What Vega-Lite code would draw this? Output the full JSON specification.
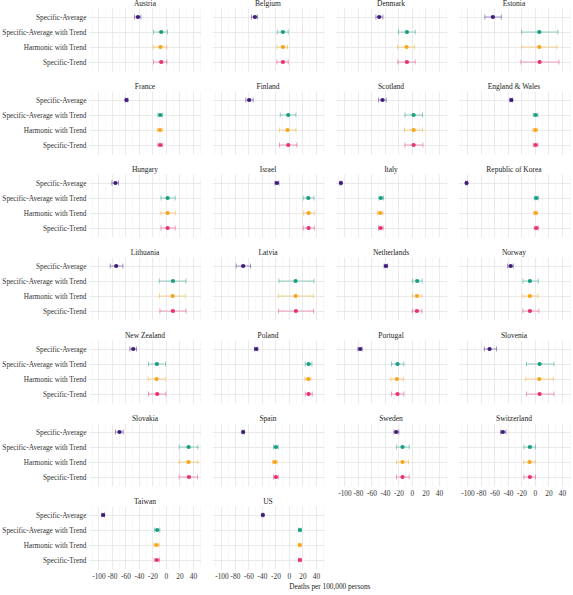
{
  "$schema": "https://vega.github.io/schema/vega-lite/v6.json",
  "padding": {"left": 1, "top": 0, "right": 3, "bottom": 2},
  "background": "white",
  "title": {"text": "Deaths per 100,000 persons", "orient": "bottom", "anchor": "middle", "frame": "bounds", "dx": 44, "font": "Liberation Serif", "fontSize": 7.3, "fontWeight": "normal", "color": "#222222", "offset": 4},
  "data": {"values": [
    {"country": "Austria", "method": "Specific-Average", "est": -41.5, "lo": -46.6, "hi": -37.1},
    {"country": "Austria", "method": "Specific-Average with Trend", "est": -7, "lo": -18.4, "hi": 2.4},
    {"country": "Austria", "method": "Harmonic with Trend", "est": -8, "lo": -18.8, "hi": 1.5},
    {"country": "Austria", "method": "Specific-Trend", "est": -7, "lo": -18.4, "hi": 1.5},
    {"country": "Belgium", "method": "Specific-Average", "est": -50.4, "lo": -55.4, "hi": -46.4},
    {"country": "Belgium", "method": "Specific-Average with Trend", "est": -8.9, "lo": -17.4, "hi": -1},
    {"country": "Belgium", "method": "Harmonic with Trend", "est": -8.9, "lo": -17.8, "hi": -2},
    {"country": "Belgium", "method": "Specific-Trend", "est": -8.9, "lo": -17.8, "hi": -1},
    {"country": "Denmark", "method": "Specific-Average", "est": -48.5, "lo": -53.4, "hi": -43},
    {"country": "Denmark", "method": "Specific-Average with Trend", "est": -7.4, "lo": -19.9, "hi": 4.9},
    {"country": "Denmark", "method": "Harmonic with Trend", "est": -8, "lo": -21.4, "hi": 3.9},
    {"country": "Denmark", "method": "Specific-Trend", "est": -7.4, "lo": -20.8, "hi": 4.9},
    {"country": "Estonia", "method": "Specific-Average", "est": -62.3, "lo": -74.2, "hi": -49.9},
    {"country": "Estonia", "method": "Specific-Average with Trend", "est": 6.5, "lo": -19.7, "hi": 34.1},
    {"country": "Estonia", "method": "Harmonic with Trend", "est": 6.5, "lo": -19.7, "hi": 32.6},
    {"country": "Estonia", "method": "Specific-Trend", "est": 7, "lo": -20.8, "hi": 35.6},
    {"country": "France", "method": "Specific-Average", "est": -58.4, "lo": -60.4, "hi": -56.4},
    {"country": "France", "method": "Specific-Average with Trend", "est": -8.5, "lo": -11.9, "hi": -5},
    {"country": "France", "method": "Harmonic with Trend", "est": -8.9, "lo": -12.9, "hi": -5.5},
    {"country": "France", "method": "Specific-Trend", "est": -8.5, "lo": -11.9, "hi": -5},
    {"country": "Finland", "method": "Specific-Average", "est": -58.9, "lo": -63.8, "hi": -53},
    {"country": "Finland", "method": "Specific-Average with Trend", "est": -1, "lo": -12.9, "hi": 10.4},
    {"country": "Finland", "method": "Harmonic with Trend", "est": -2, "lo": -13.9, "hi": 10.4},
    {"country": "Finland", "method": "Specific-Trend", "est": -1, "lo": -13.9, "hi": 11.9},
    {"country": "Scotland", "method": "Specific-Average", "est": -43.6, "lo": -49.5, "hi": -38.1},
    {"country": "Scotland", "method": "Specific-Average with Trend", "est": 2.5, "lo": -10.4, "hi": 15.8},
    {"country": "Scotland", "method": "Harmonic with Trend", "est": 2.5, "lo": -10.9, "hi": 15.8},
    {"country": "Scotland", "method": "Specific-Trend", "est": 2.5, "lo": -10.4, "hi": 16.3},
    {"country": "England & Wales", "method": "Specific-Average", "est": -35, "lo": -37, "hi": -33},
    {"country": "England & Wales", "method": "Specific-Average with Trend", "est": 1, "lo": -2.4, "hi": 4.5},
    {"country": "England & Wales", "method": "Harmonic with Trend", "est": 0.5, "lo": -2.9, "hi": 4},
    {"country": "England & Wales", "method": "Specific-Trend", "est": 1, "lo": -2.4, "hi": 4.5},
    {"country": "Hungary", "method": "Specific-Average", "est": -74.8, "lo": -80.1, "hi": -70.3},
    {"country": "Hungary", "method": "Specific-Average with Trend", "est": 2.5, "lo": -7.4, "hi": 13.8},
    {"country": "Hungary", "method": "Harmonic with Trend", "est": 2.5, "lo": -7.4, "hi": 13.8},
    {"country": "Hungary", "method": "Specific-Trend", "est": 2.5, "lo": -7.4, "hi": 13.8},
    {"country": "Israel", "method": "Specific-Average", "est": -17.8, "lo": -20.8, "hi": -14.8},
    {"country": "Israel", "method": "Specific-Average with Trend", "est": 28.7, "lo": 21.2, "hi": 37.1},
    {"country": "Israel", "method": "Harmonic with Trend", "est": 29.2, "lo": 21.8, "hi": 38.1},
    {"country": "Israel", "method": "Specific-Trend", "est": 29.2, "lo": 21.2, "hi": 37.6},
    {"country": "Italy", "method": "Specific-Average", "est": -105.3, "lo": -106.8, "hi": -103.8},
    {"country": "Italy", "method": "Specific-Average with Trend", "est": -46, "lo": -49, "hi": -42.1},
    {"country": "Italy", "method": "Harmonic with Trend", "est": -47, "lo": -51, "hi": -43},
    {"country": "Italy", "method": "Specific-Trend", "est": -46.5, "lo": -49.5, "hi": -42.6},
    {"country": "Republic of Korea", "method": "Specific-Average", "est": -101.3, "lo": -102.8, "hi": -99.8},
    {"country": "Republic of Korea", "method": "Specific-Average with Trend", "est": 2, "lo": -1, "hi": 5.5},
    {"country": "Republic of Korea", "method": "Harmonic with Trend", "est": 1, "lo": -1.5, "hi": 3.5},
    {"country": "Republic of Korea", "method": "Specific-Trend", "est": 2, "lo": -1, "hi": 5.5},
    {"country": "Lithuania", "method": "Specific-Average", "est": -73.7, "lo": -82.6, "hi": -63.8},
    {"country": "Lithuania", "method": "Specific-Average with Trend", "est": 10.4, "lo": -9.9, "hi": 29.7},
    {"country": "Lithuania", "method": "Harmonic with Trend", "est": 9.9, "lo": -9.9, "hi": 28.7},
    {"country": "Lithuania", "method": "Specific-Trend", "est": 10.4, "lo": -8.9, "hi": 29.7},
    {"country": "Latvia", "method": "Specific-Average", "est": -67.8, "lo": -78.2, "hi": -56.9},
    {"country": "Latvia", "method": "Specific-Average with Trend", "est": 9.9, "lo": -14.8, "hi": 37.1},
    {"country": "Latvia", "method": "Harmonic with Trend", "est": 9.9, "lo": -15.8, "hi": 36.1},
    {"country": "Latvia", "method": "Specific-Trend", "est": 10.4, "lo": -15.3, "hi": 36.6},
    {"country": "Netherlands", "method": "Specific-Average", "est": -38.6, "lo": -41.2, "hi": -36},
    {"country": "Netherlands", "method": "Specific-Average with Trend", "est": 7.9, "lo": 1, "hi": 15.3},
    {"country": "Netherlands", "method": "Harmonic with Trend", "est": 7.4, "lo": 0.5, "hi": 14.8},
    {"country": "Netherlands", "method": "Specific-Trend", "est": 7.4, "lo": 0.5, "hi": 14.8},
    {"country": "Norway", "method": "Specific-Average", "est": -36, "lo": -40.5, "hi": -32.1},
    {"country": "Norway", "method": "Specific-Average with Trend", "est": -7.4, "lo": -17.8, "hi": 5},
    {"country": "Norway", "method": "Harmonic with Trend", "est": -7.4, "lo": -17.8, "hi": 4.5},
    {"country": "Norway", "method": "Specific-Trend", "est": -7.4, "lo": -17.8, "hi": 6},
    {"country": "New Zealand", "method": "Specific-Average", "est": -48.5, "lo": -53.4, "hi": -43.6},
    {"country": "New Zealand", "method": "Specific-Average with Trend", "est": -13.4, "lo": -25.8, "hi": -0.5},
    {"country": "New Zealand", "method": "Harmonic with Trend", "est": -13.9, "lo": -26.3, "hi": -1},
    {"country": "New Zealand", "method": "Specific-Trend", "est": -12.9, "lo": -25.8, "hi": 0},
    {"country": "Poland", "method": "Specific-Average", "est": -48.5, "lo": -51, "hi": -46},
    {"country": "Poland", "method": "Specific-Average with Trend", "est": 29.2, "lo": 24.2, "hi": 34.1},
    {"country": "Poland", "method": "Harmonic with Trend", "est": 28.7, "lo": 23.7, "hi": 32.6},
    {"country": "Poland", "method": "Specific-Trend", "est": 29.2, "lo": 24.2, "hi": 34.6},
    {"country": "Portugal", "method": "Specific-Average", "est": -76.7, "lo": -80.1, "hi": -73.7},
    {"country": "Portugal", "method": "Specific-Average with Trend", "est": -21.3, "lo": -30.3, "hi": -11.9},
    {"country": "Portugal", "method": "Harmonic with Trend", "est": -22.3, "lo": -31.3, "hi": -12.4},
    {"country": "Portugal", "method": "Specific-Trend", "est": -21.3, "lo": -30.3, "hi": -11.9},
    {"country": "Slovenia", "method": "Specific-Average", "est": -67.2, "lo": -75.1, "hi": -56.9},
    {"country": "Slovenia", "method": "Specific-Average with Trend", "est": 7, "lo": -12.4, "hi": 28.2},
    {"country": "Slovenia", "method": "Harmonic with Trend", "est": 6.5, "lo": -13.4, "hi": 27.2},
    {"country": "Slovenia", "method": "Specific-Trend", "est": 7, "lo": -12.4, "hi": 28.2},
    {"country": "Slovakia", "method": "Specific-Average", "est": -68.8, "lo": -74.8, "hi": -63.4},
    {"country": "Slovakia", "method": "Specific-Average with Trend", "est": 33.6, "lo": 19.7, "hi": 47.5},
    {"country": "Slovakia", "method": "Harmonic with Trend", "est": 33.6, "lo": 19.7, "hi": 47.5},
    {"country": "Slovakia", "method": "Specific-Trend", "est": 34.1, "lo": 19.7, "hi": 47},
    {"country": "Spain", "method": "Specific-Average", "est": -67.8, "lo": -69.3, "hi": -66.3},
    {"country": "Spain", "method": "Specific-Average with Trend", "est": -19.3, "lo": -22.7, "hi": -15.8},
    {"country": "Spain", "method": "Harmonic with Trend", "est": -20.8, "lo": -24.2, "hi": -17.3},
    {"country": "Spain", "method": "Specific-Trend", "est": -19.3, "lo": -22.7, "hi": -15.8},
    {"country": "Sweden", "method": "Specific-Average", "est": -23.3, "lo": -26.7, "hi": -19.3},
    {"country": "Sweden", "method": "Specific-Average with Trend", "est": -13.9, "lo": -22.8, "hi": -4},
    {"country": "Sweden", "method": "Harmonic with Trend", "est": -13.9, "lo": -22.8, "hi": -5},
    {"country": "Sweden", "method": "Specific-Trend", "est": -13.9, "lo": -22.8, "hi": -4},
    {"country": "Switzerland", "method": "Specific-Average", "est": -47.5, "lo": -50.9, "hi": -43},
    {"country": "Switzerland", "method": "Specific-Average with Trend", "est": -7.4, "lo": -16.3, "hi": 1},
    {"country": "Switzerland", "method": "Harmonic with Trend", "est": -7.9, "lo": -16.8, "hi": 0.5},
    {"country": "Switzerland", "method": "Specific-Trend", "est": -7.4, "lo": -16.3, "hi": 1},
    {"country": "Taiwan", "method": "Specific-Average", "est": -93, "lo": -95, "hi": -91},
    {"country": "Taiwan", "method": "Specific-Average with Trend", "est": -13, "lo": -17, "hi": -9},
    {"country": "Taiwan", "method": "Harmonic with Trend", "est": -14, "lo": -18, "hi": -10},
    {"country": "Taiwan", "method": "Specific-Trend", "est": -13.5, "lo": -17.5, "hi": -9.5},
    {"country": "US", "method": "Specific-Average", "est": -38.6, "lo": -40, "hi": -37.2},
    {"country": "US", "method": "Specific-Average with Trend", "est": 16.3, "lo": 14.3, "hi": 18.3},
    {"country": "US", "method": "Harmonic with Trend", "est": 16, "lo": 14, "hi": 18},
    {"country": "US", "method": "Specific-Trend", "est": 16.3, "lo": 14.3, "hi": 18.3}
  ]},
  "spacing": 12,
  "vconcat": [
    {
      "transform": [{"filter": {"field": "country", "oneOf": ["Austria", "Belgium", "Denmark", "Estonia", "France", "Finland", "Scotland", "England & Wales", "Hungary", "Israel", "Italy", "Republic of Korea", "Lithuania", "Latvia", "Netherlands", "Norway", "New Zealand", "Poland", "Portugal", "Slovenia"]}}],
      "columns": 4,
      "spacing": {"row": 12, "column": 11},
      "facet": {
        "field": "country", "type": "nominal", "title": null,
        "sort": ["Austria", "Belgium", "Denmark", "Estonia", "France", "Finland", "Scotland", "England & Wales", "Hungary", "Israel", "Italy", "Republic of Korea", "Lithuania", "Latvia", "Netherlands", "Norway", "New Zealand", "Poland", "Portugal", "Slovenia"],
        "header": {"labelFont": "Liberation Serif", "labelFontSize": 7.5, "labelColor": "#222222", "labelPadding": 0.5}
      },
      "spec": {
        "width": 112, "height": 63,
        "encoding": {
          "y": {"field": "method", "type": "nominal", "title": null,
            "scale": {"type": "point", "padding": 0.6, "domain": ["Specific-Average", "Specific-Average with Trend", "Harmonic with Trend", "Specific-Trend"]},
            "axis": {"ticks": false, "domain": false, "labelPadding": 3, "gridColor": "#e8e8e8", "gridWidth": 0.9}},
          "color": {"field": "method", "type": "nominal", "legend": null,
            "scale": {"domain": ["Specific-Average", "Specific-Average with Trend", "Harmonic with Trend", "Specific-Trend"], "range": ["#3E1C7C", "#1A9E80", "#F9A51B", "#E8336E"]}}
        },
        "layer": [
          {"mark": {"type": "rule", "strokeWidth": 0.9, "opacity": 0.5},
           "encoding": {"x": {"field": "lo", "type": "quantitative", "title": null, "scale": {"domain": [-114, 52], "nice": false, "zero": false},
              "axis": {"orient": "bottom", "values": [-100, -80, -60, -40, -20, 0, 20, 40], "labels": false, "ticks": false, "domain": false, "grid": true, "gridColor": "#e4e4e4", "gridWidth": 0.8}},
             "x2": {"field": "hi"}}},
          {"mark": {"type": "tick", "thickness": 0.9, "size": 5, "opacity": 0.5},
           "encoding": {"x": {"field": "lo", "type": "quantitative", "title": null,
              "axis": {"orient": "bottom", "values": [-110, -90, -70, -50, -30, -10, 10, 30, 50], "labels": false, "ticks": false, "domain": false, "grid": true, "gridColor": "#f0f0f0", "gridWidth": 0.5}}}},
          {"mark": {"type": "tick", "thickness": 0.9, "size": 5, "opacity": 0.5}, "encoding": {"x": {"field": "hi", "type": "quantitative", "axis": null}}},
          {"mark": {"type": "point", "filled": true, "size": 18, "opacity": 1}, "encoding": {"x": {"field": "est", "type": "quantitative", "axis": null}}},
          {"mark": {"type": "rule", "color": "#9a9a9a", "strokeDash": [4, 3], "strokeWidth": 0.8}, "encoding": {"x": {"datum": 0, "type": "quantitative", "axis": null}}}
        ],
        "resolve": {"axis": {"x": "independent"}}
      }
    },
    {
      "spacing": 11,
      "hconcat": [
        {
          "transform": [{"filter": {"field": "country", "oneOf": ["Slovakia", "Spain", "Taiwan", "US"]}}],
          "columns": 2,
          "spacing": {"row": 12, "column": 11},
          "facet": {
            "field": "country", "type": "nominal", "title": null,
            "sort": ["Slovakia", "Spain", "Taiwan", "US"],
            "header": {"labelFont": "Liberation Serif", "labelFontSize": 7.5, "labelColor": "#222222", "labelPadding": 0.5}
          },
          "spec": {
            "width": 112, "height": 63,
            "encoding": {
              "y": {"field": "method", "type": "nominal", "title": null,
                "scale": {"type": "point", "padding": 0.6, "domain": ["Specific-Average", "Specific-Average with Trend", "Harmonic with Trend", "Specific-Trend"]},
                "axis": {"ticks": false, "domain": false, "labelPadding": 3, "gridColor": "#e8e8e8", "gridWidth": 0.9}},
              "color": {"field": "method", "type": "nominal", "legend": null,
                "scale": {"domain": ["Specific-Average", "Specific-Average with Trend", "Harmonic with Trend", "Specific-Trend"], "range": ["#3E1C7C", "#1A9E80", "#F9A51B", "#E8336E"]}}
            },
            "layer": [
              {"mark": {"type": "rule", "strokeWidth": 0.9, "opacity": 0.5},
               "encoding": {"x": {"field": "lo", "type": "quantitative", "title": null, "scale": {"domain": [-114, 52], "nice": false, "zero": false},
                  "axis": {"orient": "bottom", "values": [-100, -80, -60, -40, -20, 0, 20, 40],
                    "labelExpr": "datum.value < 0 ? '-' + abs(datum.value) : '' + datum.value",
                    "ticks": false, "domain": false, "labelPadding": 3, "labelFlush": false, "labelOverlap": false, "labelSeparation": 0, "labelColor": "#333333",
                    "grid": true, "gridColor": "#e4e4e4", "gridWidth": 0.8}},
                 "x2": {"field": "hi"}}},
              {"mark": {"type": "tick", "thickness": 0.9, "size": 5, "opacity": 0.5},
               "encoding": {"x": {"field": "lo", "type": "quantitative", "title": null,
                  "axis": {"orient": "bottom", "values": [-110, -90, -70, -50, -30, -10, 10, 30, 50], "labels": false, "ticks": false, "domain": false, "grid": true, "gridColor": "#f0f0f0", "gridWidth": 0.5}}}},
              {"mark": {"type": "tick", "thickness": 0.9, "size": 5, "opacity": 0.5}, "encoding": {"x": {"field": "hi", "type": "quantitative", "axis": null}}},
              {"mark": {"type": "point", "filled": true, "size": 18, "opacity": 1}, "encoding": {"x": {"field": "est", "type": "quantitative", "axis": null}}},
              {"mark": {"type": "rule", "color": "#9a9a9a", "strokeDash": [4, 3], "strokeWidth": 0.8}, "encoding": {"x": {"datum": 0, "type": "quantitative", "axis": null}}}
            ],
            "resolve": {"axis": {"x": "independent"}}
          }
        },
        {
          "transform": [{"filter": {"field": "country", "oneOf": ["Sweden", "Switzerland"]}}],
          "columns": 2,
          "spacing": {"row": 12, "column": 11},
          "facet": {
            "field": "country", "type": "nominal", "title": null,
            "sort": ["Sweden", "Switzerland"],
            "header": {"labelFont": "Liberation Serif", "labelFontSize": 7.5, "labelColor": "#222222", "labelPadding": 0.5}
          },
          "spec": {
            "width": 112, "height": 63,
            "encoding": {
              "y": {"field": "method", "type": "nominal", "title": null,
                "scale": {"type": "point", "padding": 0.6, "domain": ["Specific-Average", "Specific-Average with Trend", "Harmonic with Trend", "Specific-Trend"]},
                "axis": {"labels": false, "ticks": false, "domain": false, "gridColor": "#e8e8e8", "gridWidth": 0.9}},
              "color": {"field": "method", "type": "nominal", "legend": null,
                "scale": {"domain": ["Specific-Average", "Specific-Average with Trend", "Harmonic with Trend", "Specific-Trend"], "range": ["#3E1C7C", "#1A9E80", "#F9A51B", "#E8336E"]}}
            },
            "layer": [
              {"mark": {"type": "rule", "strokeWidth": 0.9, "opacity": 0.5},
               "encoding": {"x": {"field": "lo", "type": "quantitative", "title": null, "scale": {"domain": [-114, 52], "nice": false, "zero": false},
                  "axis": {"orient": "bottom", "values": [-100, -80, -60, -40, -20, 0, 20, 40],
                    "labelExpr": "datum.value < 0 ? '-' + abs(datum.value) : '' + datum.value",
                    "ticks": false, "domain": false, "labelPadding": 3, "labelFlush": false, "labelOverlap": false, "labelSeparation": 0, "labelColor": "#333333",
                    "grid": true, "gridColor": "#e4e4e4", "gridWidth": 0.8}},
                 "x2": {"field": "hi"}}},
              {"mark": {"type": "tick", "thickness": 0.9, "size": 5, "opacity": 0.5},
               "encoding": {"x": {"field": "lo", "type": "quantitative", "title": null,
                  "axis": {"orient": "bottom", "values": [-110, -90, -70, -50, -30, -10, 10, 30, 50], "labels": false, "ticks": false, "domain": false, "grid": true, "gridColor": "#f0f0f0", "gridWidth": 0.5}}}},
              {"mark": {"type": "tick", "thickness": 0.9, "size": 5, "opacity": 0.5}, "encoding": {"x": {"field": "hi", "type": "quantitative", "axis": null}}},
              {"mark": {"type": "point", "filled": true, "size": 18, "opacity": 1}, "encoding": {"x": {"field": "est", "type": "quantitative", "axis": null}}},
              {"mark": {"type": "rule", "color": "#9a9a9a", "strokeDash": [4, 3], "strokeWidth": 0.8}, "encoding": {"x": {"datum": 0, "type": "quantitative", "axis": null}}}
            ],
            "resolve": {"axis": {"x": "independent"}}
          }
        }
      ]
    }
  ],
  "config": {
    "view": {"stroke": null},
    "font": "Liberation Serif",
    "axis": {"labelFont": "Liberation Serif", "labelFontSize": 7.3, "labelColor": "#333333", "grid": true, "labelOverlap": false},
    "axisX": {"labelOverlap": false, "labelFlush": false}
  }
}
